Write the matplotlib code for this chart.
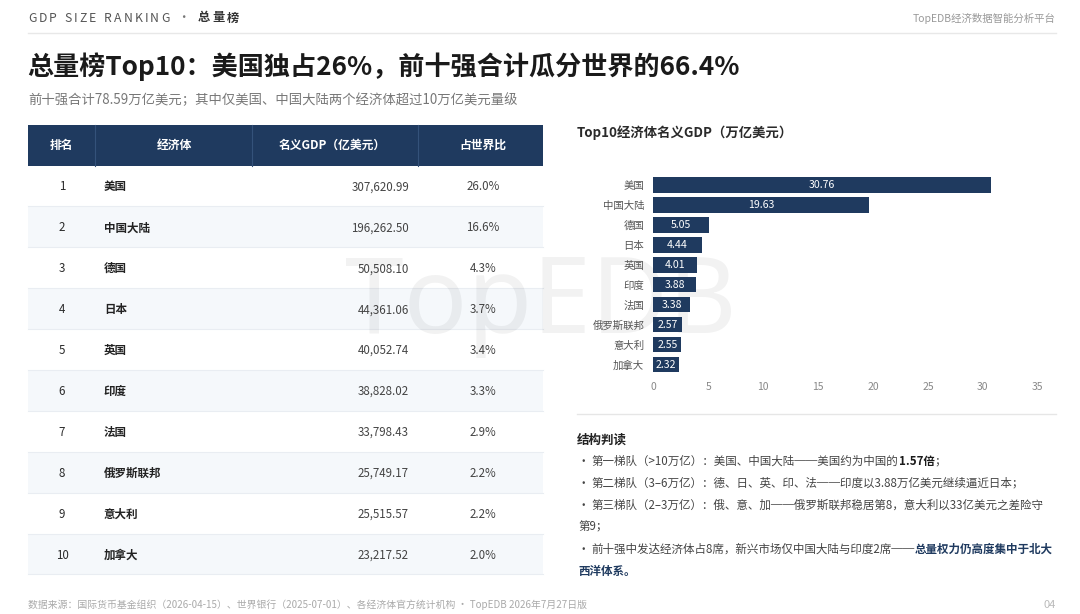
import matplotlib
matplotlib.use("Agg")
import matplotlib.pyplot as plt
from matplotlib.patches import Rectangle

plt.rcParams['font.family'] = ['Noto Sans CJK SC', 'DejaVu Sans']

# table / chart data
ranks = list(range(1, 11))
names = ['美国', '中国大陆', '德国', '日本', '英国', '印度', '法国', '俄罗斯联邦', '意大利', '加拿大']
gdp_yi = [307620.99, 196262.50, 50508.10, 44361.06, 40052.74,
          38828.02, 33798.43, 25749.17, 25515.57, 23217.52]
share_pct = [26.0, 16.6, 4.3, 3.7, 3.4, 3.3, 2.9, 2.2, 2.2, 2.0]
gdp_wanyi = [round(v / 10000, 2) for v in gdp_yi]   # 亿 -> 万亿
col_heads = ['排名', '经济体', '名义GDP（亿美元）', '占世界比']
x_ticks = [0, 5, 10, 15, 20, 25, 30, 35]

NAVY = '#1f3a5f'
DASH = '\u2500\u2500'   # box-drawing rule: full width, joins without a gap

fig = plt.figure(figsize=(10.8, 6.14), dpi=100)
bg = fig.add_axes([0, 0, 1, 1])
bg.set_xlim(0, 1080)
bg.set_ylim(614, 0)
bg.axis('off')
r = fig.canvas.get_renderer()


def runs(x, y, parts, size, tracking=0.0, space=0.28):
    # draw text pieces one after another, each with its own weight/colour
    for text, weight, color in parts:
        pieces = list(text) if tracking else text.split(' ')
        for k, p in enumerate(pieces):
            if tracking and p == ' ':
                x += size * space * 100 / 72 + tracking
                continue
            if not tracking and k > 0:
                x += size * space * 100 / 72
            if p == '':
                continue
            t = bg.text(x, y, p, fontsize=size, fontweight=weight, color=color,
                        ha='left', va='center')
            x += t.get_window_extent(renderer=r).width + tracking
    return x


# top strip
runs(28, 18, [('GDP SIZE RANKING', 'normal', '#555555'), (' · ', 'normal', '#777777'),
              ('总量榜', 'bold', '#333333')], 8.8, tracking=2.1, space=0.3)
bg.text(1056, 18, 'TopEDB经济数据智能分析平台', fontsize=7.5, color='#999999',
        ha='right', va='center')
bg.plot([28, 1056], [33, 33], color='#e8e8e8', lw=1)

bg.text(27, 67, '总量榜Top10：美国独占26%，前十强合计瓜分世界的66.4%',
        fontsize=18.8, fontweight='bold', color='#1a1a1a', ha='left', va='center')
bg.text(28, 100, '前十强合计78.59万亿美元；其中仅美国、中国大陆两个经济体超过10万亿美元量级',
        fontsize=9.6, color='#777777', ha='left', va='center')

# table
left, right = 28, 543
head_top, head_h, row_h = 125, 40.5, 40.9
edges = [28, 95, 252, 418, 543]
head_x = [61.5, 174, 332, 483]
bg.add_patch(Rectangle((left, head_top), right - left, head_h, color=NAVY, lw=0))
for e in edges[1:-1]:
    bg.plot([e, e], [head_top, head_top + head_h], color='#34527a', lw=0.8)
for hx, h in zip(head_x, col_heads):
    bg.text(hx, head_top + head_h / 2, h, fontsize=8.5, fontweight='bold',
            color='white', ha='center', va='center')

for i in range(len(ranks)):
    y0 = head_top + head_h + i * row_h
    if i % 2 == 1:
        bg.add_patch(Rectangle((left, y0), right - left, row_h, color='#f5f8fb', lw=0))
    bg.plot([left, right], [y0 + row_h, y0 + row_h], color='#e9edf2', lw=0.8)
    yc = y0 + row_h / 2 + 1
    bg.text(62, yc, str(ranks[i]), fontsize=8.3, color='#2a2a2a', ha='center', va='center')
    bg.text(104, yc, names[i], fontsize=8.3, fontweight='bold', color='#222222',
            ha='left', va='center')
    bg.text(409, yc, f'{gdp_yi[i]:,.2f}', fontsize=8.3, color='#444444',
            ha='right', va='center')
    bg.text(483, yc, f'{share_pct[i]:.1f}%', fontsize=8.3, color='#444444',
            ha='center', va='center')

# watermark, sits between table and bar chart
fig.text(541 / 1080, 1 - 305 / 614, 'TopEDB', fontsize=76, color='#000000', alpha=0.05,
         ha='center', va='center', zorder=0.5, family='Noto Sans')

# bar chart
bg.text(577, 133, 'Top10经济体名义GDP（万亿美元）', fontsize=9.6, fontweight='bold',
        color='#2a2a2a', ha='left', va='center')
ax = fig.add_axes([653.3 / 1080, (614 - 374.5) / 614,
                   (1037.7 - 653.3) / 1080, (374.5 - 175.2) / 614])
ax.set_zorder(1)
ax.patch.set_alpha(0)
ypos = list(range(len(names)))
ax.barh(ypos, gdp_wanyi, height=0.77, color=NAVY)
for yy, v in zip(ypos, gdp_wanyi):
    ax.text(v / 2, yy, f'{v:.2f}', color='white', fontsize=7.6, ha='center', va='center')
ax.set_ylim(9.5, -0.5)
ax.set_xlim(0, 35)
ax.set_yticks(ypos)
ax.set_yticklabels(names)
ax.set_xticks(x_ticks)
ax.tick_params(axis='y', length=0, pad=6.5, labelsize=7.5, labelcolor='#555555')
ax.tick_params(axis='x', length=0, pad=5.5, labelsize=7.5, labelcolor='#888888')
for s in ax.spines.values():
    s.set_visible(False)

bg.plot([577, 1056], [414, 414], color='#e6e6e6', lw=1)

# reading notes
bg.text(577, 440, '结构判读', fontsize=9, fontweight='bold', color='#222222',
        ha='left', va='center')
norm, bold = '#444444', '#1a1a1a'
lines = [
    [('· 第一梯队（>10万亿）：美国、中国大陆' + DASH + '美国约为中国的', 'normal', norm),
     ('1.57倍', 'bold', bold), ('；', 'normal', norm)],
    [('· 第二梯队（3–6万亿）：德、日、英、印、法' + DASH + '印度以3.88万亿美元继续逼近日本；', 'normal', norm)],
    [('· 第三梯队（2–3万亿）：俄、意、加' + DASH + '俄罗斯联邦稳居第8，意大利以33亿美元之差险守', 'normal', norm)],
    [('第9；', 'normal', norm)],
    [('· 前十强中发达经济体占8席，新兴市场仅中国大陆与印度2席' + DASH, 'normal', norm),
     ('总量权力仍高度集中于北大', 'bold', NAVY)],
    [('西洋体系。', 'bold', NAVY)],
]
line_y = [461, 483, 505, 527, 549, 571]
for ly, parts in zip(line_y, lines):
    runs(578, ly, parts, 8.3, space=0.2)

# footer
bg.text(28, 605, '数据来源：国际货币基金组织（2026-04-15）、世界银行（2025-07-01）、各经济体官方统计机构 · TopEDB 2026年7月27日版',
        fontsize=7.1, color='#aaaaaa', ha='left', va='center')
bg.text(1056, 605, '04', fontsize=8, color='#bbbbbb', ha='right', va='center')

fig.savefig('out.png', dpi=100)
